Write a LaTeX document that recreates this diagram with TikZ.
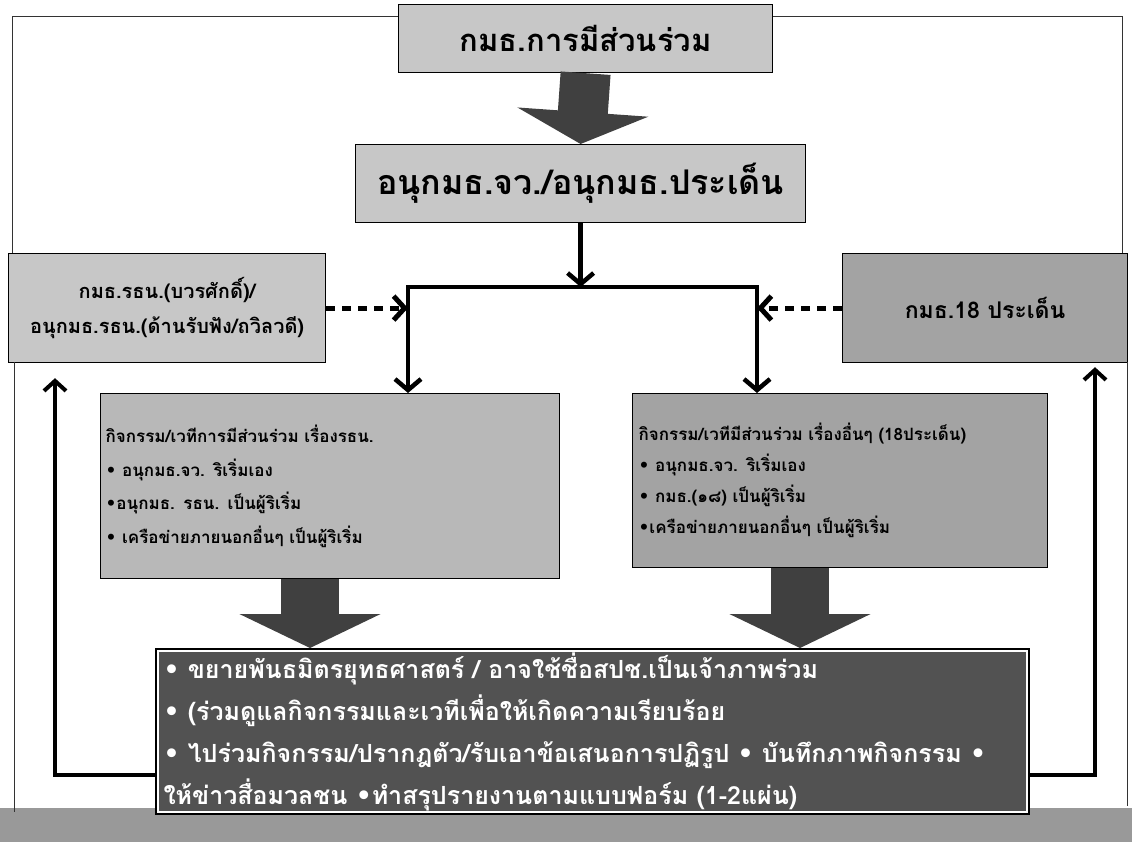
\documentclass[tikz,border=0pt]{standalone}
\usepackage{fontspec}
\newfontfamily\thaifont[Script=Thai]{Loma}
\newfontfamily\symf{DejaVu Sans}
\usetikzlibrary{arrows.meta,calc}
\newcommand\bul{{\symf\char"2022}}
\begin{document}
\begin{tikzpicture}[x=1pt,y=-1pt,
  bx/.style={draw=black, line width=1.2pt, inner sep=0pt},
  light/.style={fill=black!22},
  mid/.style={fill=black!28},
  darkbx/.style={fill=black!36},
  thk/.style={line width=4.5pt, line join=miter, -{Straight Barb[length=11pt,width=26pt]}},
  dotarr/.style={line width=5pt, dash pattern=on 9pt off 7pt, -{Straight Barb[length=11pt,width=24pt]}},
  fb/.style={line width=4pt, line join=miter, -{Straight Barb[length=10pt,width=22pt]}},
  blk/.style={draw=black!75, line width=52pt, -{Triangle[length=34pt,width=135pt]}},
  frame/.style={line width=0.8pt, black!80}
]
\useasboundingbox (0,0) rectangle (1132,842);
% bottom grey band
\fill[black!40] (0,808) rectangle (1132,842);
\coordinate (fr) at (0,16);
% boxes
\node[bx,light,anchor=north west,minimum width=374pt,minimum height=68pt,
  font=\thaifont\bfseries\fontsize{31}{38}\selectfont] (top) at (398,4)
  {กมธ.การมีส่วนร่วม};
\node[bx,light,anchor=north west,minimum width=450pt,minimum height=78pt,
  font=\thaifont\bfseries\fontsize{34}{40}\selectfont] (sub) at (355,144)
  {อนุกมธ.จว./อนุกมธ.ประเด็น};
\node[bx,light,anchor=north west,minimum width=317pt,minimum height=109pt,align=center,
  font=\thaifont\bfseries\fontsize{20}{35}\selectfont] (lb) at (8,253)
  {กมธ.รธน.(บวรศักดิ์)/\\ อนุกมธ.รธน.(ด้านรับฟัง/ถวิลวดี)};
\node[bx,darkbx,anchor=north west,minimum width=285pt,minimum height=109pt,
  font=\thaifont\bfseries\fontsize{23}{28}\selectfont] (rb) at (842,253)
  {กมธ.18 ประเด็น};
\node[bx,mid,anchor=north west,text width=449pt,inner xsep=5pt,minimum height=185pt,align=left,
  font=\thaifont\bfseries\fontsize{17}{33.5}\selectfont] (m1) at (100,393)
  {กิจกรรม/เวทีการมีส่วนร่วม เรื่องรธน.\\
   \bul\ อนุกมธ.จว. ริเริ่มเอง\\
   \bul อนุกมธ. รธน. เป็นผู้ริเริ่ม\\
   \bul\ เครือข่ายภายนอกอื่นๆ เป็นผู้ริเริ่ม};
\node[bx,darkbx,anchor=north west,text width=403pt,inner xsep=6pt,minimum height=174pt,align=left,
  font=\thaifont\bfseries\fontsize{17}{31}\selectfont] (m2) at (632,393)
  {กิจกรรม/เวทีมีส่วนร่วม เรื่องอื่นๆ (18ประเด็น)\\
   \bul\ อนุกมธ.จว. ริเริ่มเอง\\
   \bul\ กมธ.(๑๘) เป็นผู้ริเริ่ม\\
   \bul เครือข่ายภายนอกอื่นๆ เป็นผู้ริเริ่ม};
\node[bx,draw=black,line width=3pt,fill=black!68,text=white,anchor=north west,text width=858pt,inner xsep=7pt,minimum height=164pt,align=left,
  font=\thaifont\bfseries\fontsize{25}{42}\selectfont] (bot) at (155,648)
  {\bul\ ขยายพันธมิตรยุทธศาสตร์ / อาจใช้ชื่อสปช.เป็นเจ้าภาพร่วม\\
   \bul\ (ร่วมดูแลกิจกรรมและเวทีเพื่อให้เกิดความเรียบร้อย\\
   \bul\ ไปร่วมกิจกรรม/ปรากฎตัว/รับเอาข้อเสนอการปฏิรูป \bul\ บันทึกภาพกิจกรรม \bul\\
   ให้ข่าวสื่อมวลชน \bul ทำสรุปรายงานตามแบบฟอร์ม (1-2แผ่น)};
\draw[white,line width=1.5pt] ($(bot.south west)+(3,-3)$) rectangle ($(bot.north east)+(-3,3)$);
% frame lines
\draw[frame] (12,253) -- (12,16) -- (top.west |- fr);
\draw[frame] (top.east |- fr) -- (1122,16) -- (1122,253);
\draw[frame] (14,362) -- (14,812);
\draw[frame] (1127,362) -- (1127,806);
% block arrows
\draw[blk,line width=50pt,-{Triangle[length=32pt,width=130pt]}] (top.south) -- (sub.north);
\coordinate (ax1) at (310,0);
\coordinate (ax2) at (800,0);
\draw[blk,line width=58pt,-{Triangle[length=34pt,width=140pt]}] (m1.south -| ax1) -- (bot.north -| ax1);
\draw[blk,line width=58pt,-{Triangle[length=34pt,width=140pt]}] (m2.south -| ax2) -- (bot.north -| ax2);
% bus
\coordinate (barL) at (408,287);
\coordinate (barR) at (757,287);
\draw[thk] (sub.south) -- (sub.south |- barL);
\draw[thk,{Straight Barb[length=11pt,width=26pt]}-{Straight Barb[length=11pt,width=26pt]}]
  (barL |- m1.north) -- (barL) -- (barR) -- (barR |- m2.north);
\draw[dotarr] (lb.east) -- (lb.east -| barL);
\draw[dotarr] (rb.west) -- (rb.west -| barR);
% feedback arrows
\coordinate (fbl) at (55,775);
\coordinate (fbr) at (1095,775);
\draw[fb] (bot.west |- fbl) -- (fbl) -- ($(fbl |- lb.south)+(0,15)$);
\draw[fb] (bot.east |- fbr) -- (fbr) -- ($(fbr |- rb.south)+(0,4)$);
\end{tikzpicture}
\end{document}
